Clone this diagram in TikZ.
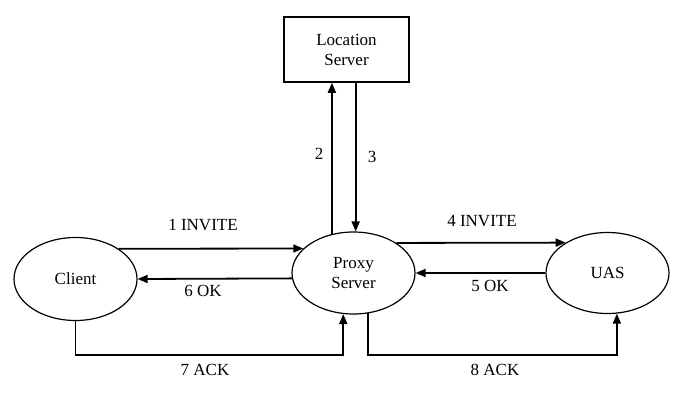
\documentclass[tikz,border=0pt]{standalone}
\usepackage{fontspec}
\setmainfont{Liberation Serif}
\usetikzlibrary{arrows.meta,calc,shapes.geometric}
\begin{document}
\begin{tikzpicture}[x=1pt,y=-1pt,
  every node/.style={font=\fontsize{17}{20}\selectfont},
  ell/.style={draw,ellipse,line width=1.2pt,inner sep=0pt,align=center},
  boxnode/.style={draw,rectangle,line width=1.6pt,inner sep=0pt,align=center,minimum width=125pt,minimum height=65pt},
  arr/.style={line width=1.8pt,-{Triangle[length=10pt,width=8pt]}},
  lbl/.style={inner sep=0pt,anchor=center}]
\useasboundingbox (0,0) rectangle (684,403);
\node[boxnode] (loc) at (346.5,49.5) {Location\\Server};
\node[ell,minimum width=123pt,minimum height=83pt] (client) at (75.5,279) {Client};
\node[ell,minimum width=123pt,minimum height=82pt] (proxy) at (353.5,273) {Proxy\\Server};
\node[ell,minimum width=123pt,minimum height=81pt] (uas) at (607.5,273) {UAS};
% 1 INVITE
\draw[arr] (client.35.2) -- (proxy.154.3);
% 6 OK
\draw[arr] (proxy.185.6) -- (client.0);
% 4 INVITE
\draw[arr] (proxy.35.6) -- (uas.144.0);
% 5 OK
\draw[arr] (uas.west) -- (proxy.east);
% 2
\draw[arr] (proxy.119.25) -- (proxy.119.25 |- loc.south);
% 3
\draw[arr] (loc.south -| proxy.87) -- (proxy.87);
% 7 ACK
\draw[arr] (client.south) |- (proxy.256.8 |- 0,355) -- (proxy.256.8);
% 8 ACK
\draw[arr] (proxy.290) |- (uas.283.4 |- 0,355) -- (uas.283.4);
\node[lbl] (l1) at (203,225) {1 INVITE};
\node[lbl] (l6) at (203,291) {6 OK};
\node[lbl] (l7) at (205,370) {7 ACK};
\node[lbl] (l4) at (482,221) {4 INVITE};
\node[lbl] (l5) at (490,286) {5 OK};
\node[lbl] (l8) at (495,370) {8 ACK};
\node[lbl] (l2) at (319,154) {2};
\node[lbl] (l3) at (372,157) {3};
\end{tikzpicture}
\end{document}
